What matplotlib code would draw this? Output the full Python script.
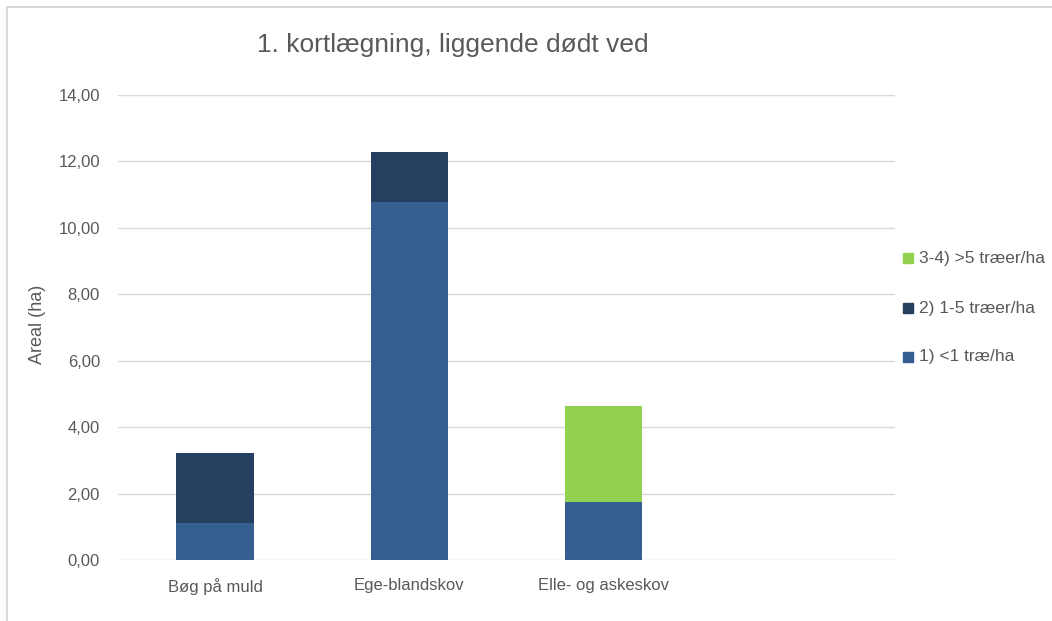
import matplotlib.pyplot as plt
import numpy as np
from matplotlib.patches import Rectangle

# Data
categories = ["Bøg på muld", "Ege-blandskov", "Elle- og askeskov", ""]
under_1 = [1.11, 10.79, 1.75, 0]
from_1_to_5 = [2.12, 1.48, 0, 0]
over_5 = [0, 0, 2.90, 0]
series_names = ["1) <1 træ/ha", "2) 1-5 træer/ha", "3-4) >5 træer/ha"]
colors = ["#365F91", "#243F60", "#92D050"]
yticks = [0, 2, 4, 6, 8, 10, 12, 14]

plt.rcParams['font.family'] = ['Liberation Sans', 'DejaVu Sans']
text_color = "#595959"

fig = plt.figure(figsize=(10.52, 6.21), dpi=100)
ax = fig.add_axes([118 / 1052, 1 - 560 / 621, 777 / 1052, 465 / 621])

x = np.arange(len(categories))
w = 0.4
bottom2 = np.array(under_1)
bottom3 = bottom2 + np.array(from_1_to_5)
ax.bar(x, under_1, width=w, color=colors[0], zorder=3)
ax.bar(x, from_1_to_5, width=w, bottom=bottom2, color=colors[1], zorder=3)
ax.bar(x, over_5, width=w, bottom=bottom3, color=colors[2], zorder=3)

ax.set_xlim(-0.5, len(categories) - 0.5)
ax.set_ylim(0, 14)
ax.set_yticks(yticks)
ax.set_yticklabels([f"{v:.2f}".replace(".", ",") for v in yticks])
ax.set_xticks(x)
ax.set_xticklabels(categories)
ax.yaxis.grid(True, color="#D9D9D9", linewidth=1, zorder=0)
for s in ax.spines.values():
    s.set_visible(False)
ax.tick_params(axis="both", length=0, colors=text_color, labelsize=12)
ax.tick_params(axis="y", pad=13)
ax.tick_params(axis="x", pad=13)

fig.text(38 / 1052, 1 - 324 / 621, "Areal (ha)", rotation=90, ha="center",
         va="center", fontsize=13, color=text_color)

fig.text(453 / 1052, 1 - 45 / 621, "1. kortlægning, liggende dødt ved",
         ha="center", va="center", fontsize=19, color=text_color)

# legend (reverse order)
ys = [258, 308, 357]
for name, col, yy in zip(series_names[::-1], colors[::-1], ys):
    fig.patches.append(Rectangle((903 / 1052, 1 - (yy + 5) / 621), 10 / 1052, 10 / 621,
                                 transform=fig.transFigure, color=col))
    fig.text(919 / 1052, 1 - yy / 621, name, ha="left", va="center",
             fontsize=12.5, color=text_color)

# frame of the chart area
fig.patches.append(Rectangle((7 / 1052, -0.1), 1.2, 1 - 7 / 621 + 0.1,
                             transform=fig.transFigure, fill=False,
                             edgecolor="#D9D9D9", linewidth=1.5))

fig.savefig("out.png", dpi=100)
